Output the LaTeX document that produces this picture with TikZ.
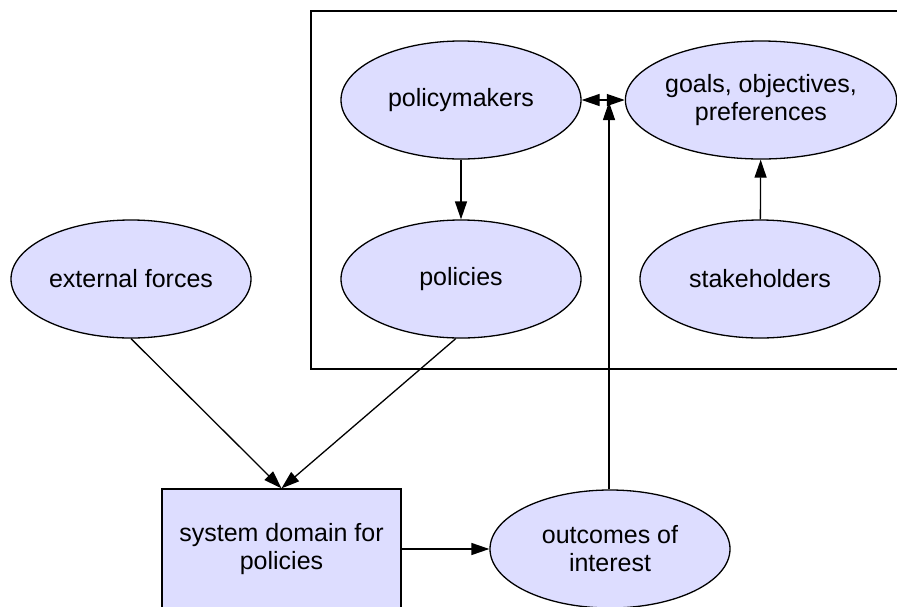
\documentclass[tikz,border=0pt]{standalone}
\usepackage{fontspec}
\setmainfont{Liberation Sans}
\usetikzlibrary{shapes.geometric,arrows.meta}
\definecolor{nodefill}{RGB}{221,221,255}
\begin{document}
\begin{tikzpicture}[x=1pt,y=-1pt,
  every node/.style={font=\fontsize{25}{28}\selectfont, align=center, text=black},
  oval/.style={ellipse, draw=black, line width=1.3pt, fill=nodefill,
    minimum width=240pt, minimum height=118pt, inner sep=0pt},
  boxnode/.style={rectangle, draw=black, line width=1.3pt, fill=nodefill,
    minimum width=239pt, minimum height=120pt, inner sep=0pt},
  link/.style={line width=1.3pt, -{Triangle[length=18pt,width=12pt]}},
  dlink/.style={line width=1.3pt, {Triangle[length=18pt,width=12pt]}-{Triangle[length=18pt,width=12pt]}}]
  \useasboundingbox (0,0) rectangle (897,606);
  \clip (0,0) rectangle (897,606);

  % cluster frame around the decision makers and their aims
  \draw[line width=1.3pt] (311,11) rectangle (920,369);

  \node[oval] (pm)    at (461,100) {policymakers};
  \node[oval] (goals) at (761,100) {goals, objectives,\\preferences};
  \node[oval] (pol)   at (461,279) {policies};
  \node[oval] (stake) at (760,279) {stakeholders};
  \node[oval] (ext)   at (131,279) {external forces};
  \node[boxnode] (sys) at (281.5,549) {system domain for\\policies};
  \node[oval] (out)   at (610,549) {outcomes of\\interest};
  \coordinate (j) at (609,100);

  \draw[link] (pm) -- (pol);
  \draw[link] (stake) -- (goals);
  \draw[dlink] (pm) -- (goals);
  \draw[link, shorten >=2pt] (out.north -| j) -- (j);
  \draw[link] (ext.south) -- (sys.north);
  \draw[link] (pol.-95) -- (sys.north);
  \draw[link] (sys) -- (out);
\end{tikzpicture}
\end{document}
